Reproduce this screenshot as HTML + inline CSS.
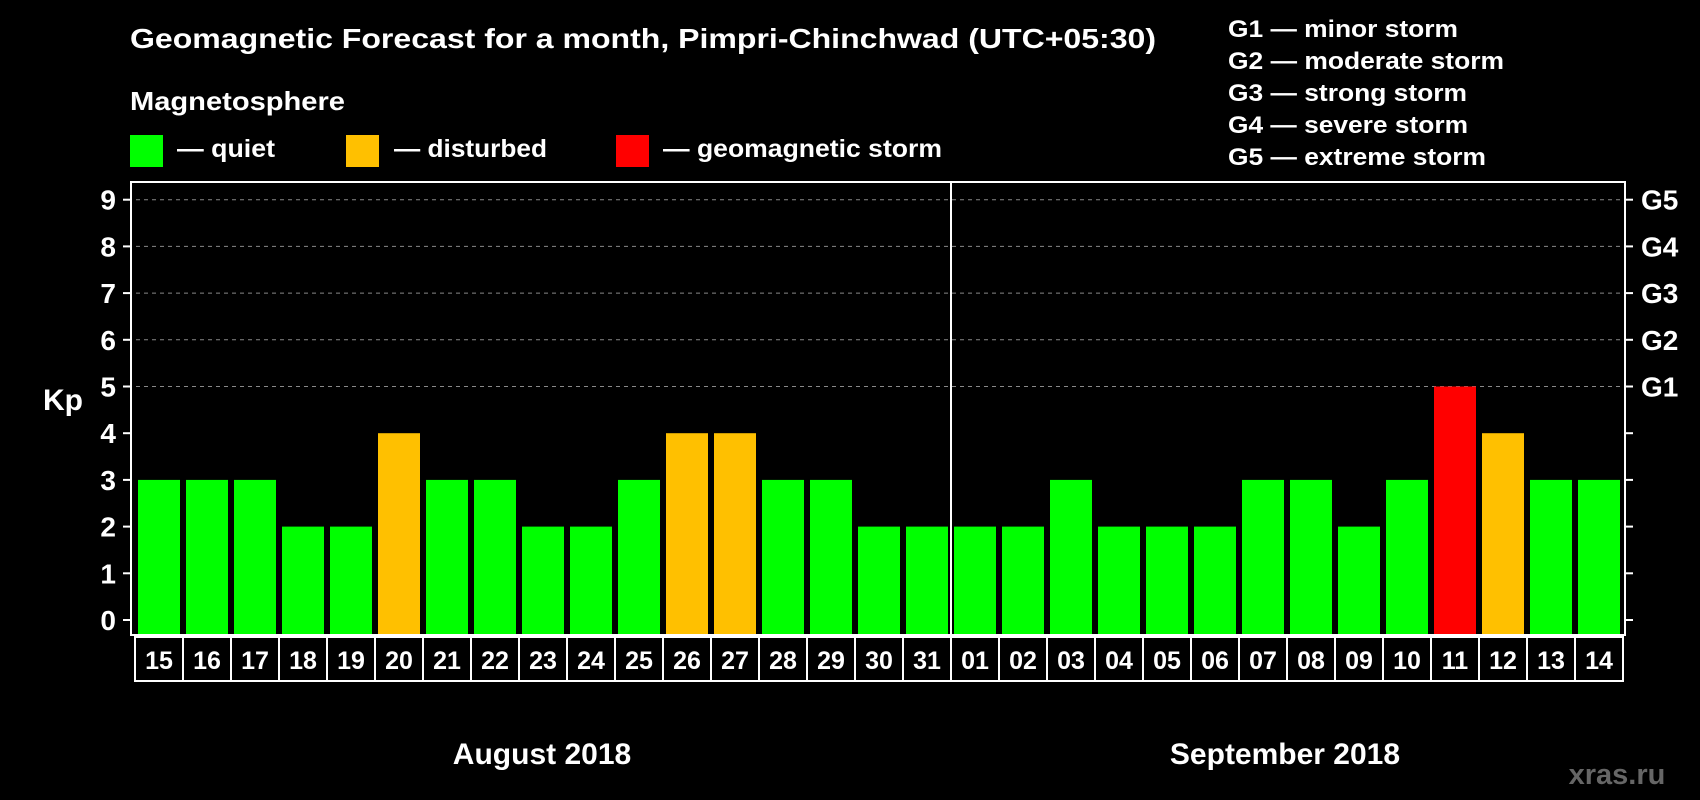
<!DOCTYPE html>
<html><head><meta charset="utf-8"><style>
body{margin:0;background:#000;width:1700px;height:800px;overflow:hidden}
svg{display:block;font-family:"Liberation Sans",Arial,sans-serif;font-weight:bold}
</style></head><body>
<svg id="c" width="1700" height="800">
<text x="130" y="48" fill="#fff" font-size="28" textLength="1026" lengthAdjust="spacingAndGlyphs">Geomagnetic Forecast for a month, Pimpri-Chinchwad (UTC+05:30)</text>
<text x="130" y="110" fill="#fff" font-size="26" textLength="215" lengthAdjust="spacingAndGlyphs">Magnetosphere</text>
<rect x="130" y="135" width="33" height="32" fill="#00ff00"/>
<text x="177" y="157" fill="#fff" font-size="25" textLength="98" lengthAdjust="spacingAndGlyphs">— quiet</text>
<rect x="346" y="135" width="33" height="32" fill="#ffc000"/>
<text x="394" y="157" fill="#fff" font-size="25" textLength="153" lengthAdjust="spacingAndGlyphs">— disturbed</text>
<rect x="616" y="135" width="33" height="32" fill="#ff0000"/>
<text x="663" y="157" fill="#fff" font-size="25" textLength="279" lengthAdjust="spacingAndGlyphs">— geomagnetic storm</text>
<g fill="#fff" font-size="24">
<text x="1228" y="37" textLength="230" lengthAdjust="spacingAndGlyphs">G1 — minor storm</text>
<text x="1228" y="69" textLength="276" lengthAdjust="spacingAndGlyphs">G2 — moderate storm</text>
<text x="1228" y="101" textLength="239" lengthAdjust="spacingAndGlyphs">G3 — strong storm</text>
<text x="1228" y="133" textLength="240" lengthAdjust="spacingAndGlyphs">G4 — severe storm</text>
<text x="1228" y="165" textLength="258" lengthAdjust="spacingAndGlyphs">G5 — extreme storm</text>
</g>
<text x="43" y="410" fill="#fff" font-size="30">Kp</text>
<g id="plot"></g>
<text x="542" y="764" fill="#fff" font-size="30" text-anchor="middle">August 2018</text>
<text x="1285" y="764" fill="#fff" font-size="30" text-anchor="middle">September 2018</text>
<text x="1617" y="784" fill="#666" font-size="29" text-anchor="middle">xras.ru</text>
</svg>
<script>
const days=["15","16","17","18","19","20","21","22","23","24","25","26","27","28","29","30","31","01","02","03","04","05","06","07","08","09","10","11","12","13","14"];
const kp=[3,3,3,2,2,4,3,3,2,2,3,4,4,3,3,2,2,2,2,3,2,2,2,3,3,2,3,5,4,3,3];
const yTicks=[0,1,2,3,4,5,6,7,8,9];
const gLabels=["G1","G2","G3","G4","G5"];
const NS="http://www.w3.org/2000/svg";
const g=document.getElementById('plot');
const L=131,R=1625,T=182,B=635,x0=138,pitch=48,bw=42;
const y=v=>620-v*46.7;
const xs=i=>x0+i*pitch;
function mk(t,a){const e=document.createElementNS(NS,t);for(const k in a)e.setAttribute(k,a[k]);g.appendChild(e);return e;}
yTicks.forEach(v=>{
 if(v>=5){const l=mk('line',{x1:L+5,x2:R,y1:y(v),y2:y(v),stroke:'#888','stroke-dasharray':'4,4'});
 
 }
 const t1=mk('line',{x1:L-8,x2:L,y1:y(v),y2:y(v),stroke:'#fff','stroke-width':2});
 
 
 const t2=mk('line',{x1:R,x2:R+8,y1:y(v),y2:y(v),stroke:'#fff','stroke-width':2});
 
 
 const tl=mk('text',{x:116,y:y(v)+10,fill:'#fff','font-size':28,'text-anchor':'end'});tl.textContent=v;
 
 
});
gLabels.forEach((s,i)=>{const t=mk('text',{x:1641,y:y(i+5)+10,fill:'#fff','font-size':28});t.textContent=s;
 
 });
kp.forEach((v,i)=>{const c=v>=5?'#ff0000':v>=4?'#ffc000':'#00ff00';
 const r=mk('rect',{x:xs(i),y:y(v),width:bw,height:B-y(v),fill:c});
 
 
 const bx=mk('rect',{x:xs(i)-3,y:637,width:pitch,height:44,fill:'none',stroke:'#fff','stroke-width':2});
 
 
 const t=mk('text',{x:xs(i)+bw/2,y:669,fill:'#fff','font-size':25,'text-anchor':'middle'});t.textContent=days[i];
 
 
});
const dv=mk('line',{x1:xs(17)-3,x2:xs(17)-3,y1:T,y2:B,stroke:'#fff','stroke-width':2});


const fr=mk('rect',{x:L,y:T,width:R-L,height:B-T,fill:'none',stroke:'#fff','stroke-width':2});


</script>
</body></html>
